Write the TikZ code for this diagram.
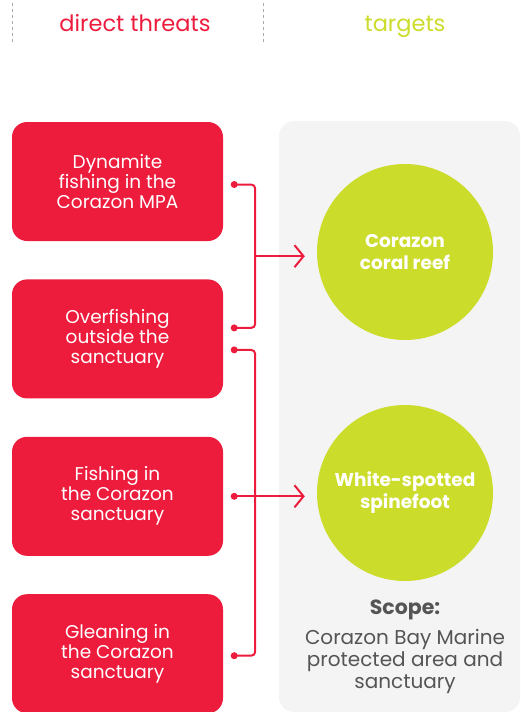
\documentclass[tikz,border=0pt]{standalone}
\usepackage{fontspec}
\setmainfont{Poppins}
\usetikzlibrary{arrows.meta,positioning,calc}
\definecolor{threatred}{RGB}{237,28,61}
\definecolor{targetgreen}{RGB}{203,220,42}
\definecolor{panelgray}{RGB}{244,244,244}
\definecolor{scopegray}{RGB}{85,85,85}
\definecolor{rulegray}{RGB}{170,170,170}

\begin{document}
\begin{tikzpicture}[
  x=1pt, y=-1pt,
  node distance=38pt,
  threat/.style={fill=threatred, rounded corners=15pt, minimum width=211pt, minimum height=119pt, text=white, align=center, font=\fontsize{18.5}{20}\selectfont, inner sep=0pt},
  target/.style={circle, fill=targetgreen, minimum size=176pt, text=white, align=center, font=\bfseries\fontsize{18.5}{22}\selectfont, inner sep=0pt},
  heading/.style={anchor=base, font=\fontsize{22.5}{26}\selectfont},
  link/.style={draw=threatred, line width=2pt, rounded corners=4pt},
  arr/.style={link, shorten >=12pt, -{Straight Barb[length=9pt, width=22pt, line width=2pt]}},
  dot/.style={circle, fill=threatred, inner sep=0pt, minimum size=7pt},
]
  \useasboundingbox (0,0) rectangle (520,712);

  % column headings
  \draw[rulegray, dashed, line width=1pt] (12,3) -- (12,44);
  \draw[rulegray, dashed, line width=1pt] (263,3) -- (263,44);
  \node[heading, text=threatred] (hthreats) at (135,31) {direct threats};
  \node[heading, text=targetgreen] (htargets) at (405,31) {targets};

  % targets panel
  \fill[panelgray, rounded corners=15pt] (279,121) rectangle (520,712);

  % threats
  \node[threat] (t1) at (117.5,181.5) {Dynamite\\fishing in the\\Corazon MPA};
  \node[threat, below=of t1] (t2) {Overfishing\\outside the\\sanctuary};
  \node[threat, below=of t2] (t3) {Fishing in\\the Corazon\\sanctuary};
  \node[threat, below=of t3] (t4) {Gleaning in\\the Corazon\\sanctuary};

  % targets
  \node[target] (c1) at (405,252) {Corazon\\coral reef};
  \node[target] (c2) at (405,493) {White-spotted\\spinefoot};

  \node[font=\bfseries\fontsize{20.5}{22}\selectfont, text=scopegray] (scope) at (405,610) {Scope:};
  \node[align=center, text=scopegray, font=\fontsize{20}{22}\selectfont] (scopetext) at (405,661) {Corazon Bay Marine\\protected area and\\sanctuary};

  % connectors
  \node[dot] (d1) at ($(t1.east)+(11,3)$) {};
  \node[dot] (d2) at ($(t2.east)+(11,-11)$) {};
  \node[dot] (d3) at ($(t2.east)+(11,11)$) {};
  \node[dot] (d4) at ($(t3.east)+(11,0)$) {};
  \node[dot] (d5) at ($(t4.east)+(11,2)$) {};

  \draw[link] (d1.center) -- ++(21,0) |- (d2.center);
  \coordinate (m1) at ($(d1.center)!0.5!(d2.center)+(21,0)$);
  \draw[arr] (m1) -- (m1 -| c1.west);

  \draw[link] (d3.center) -- ++(21,0) |- (d5.center);
  \draw[arr] (d4.center) -- (d4.center -| c2.west);
\end{tikzpicture}
\end{document}
